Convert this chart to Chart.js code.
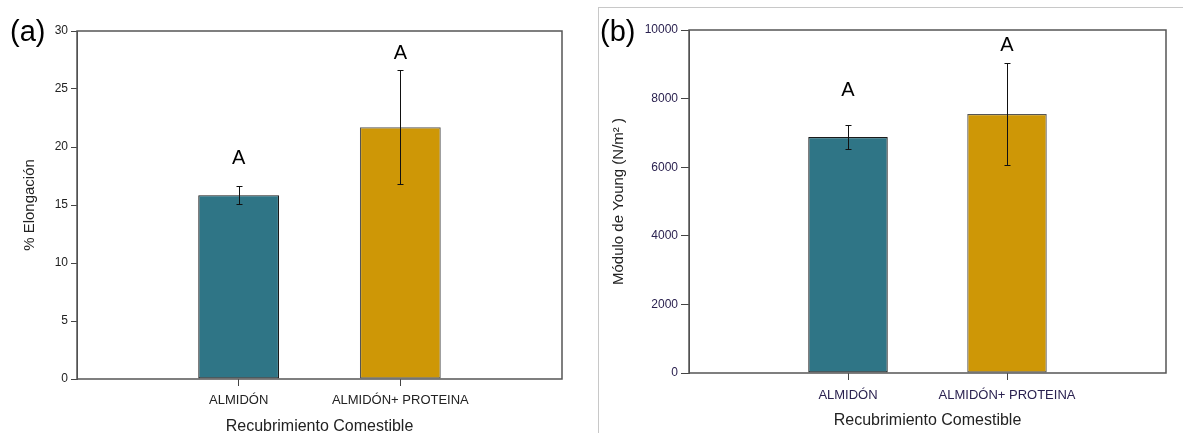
<!DOCTYPE html>
<html>
<head>
<meta charset="utf-8">
<script src="https://cdn.jsdelivr.net/npm/chart.js@4.4.0/dist/chart.umd.min.js"></script>
<style>
  html, body { margin: 0; padding: 0; background: #fff; width: 1183px; height: 433px; overflow: hidden; }
  #wrapA { position: absolute; left: 0; top: 0; width: 595px; height: 433px; }
  #wrapB { position: absolute; left: 598px; top: 7px; width: 585px; height: 426px; border-left: 1px solid #c8c8c8; border-top: 1px solid #c8c8c8; }
  #cB { position: absolute; left: 0; top: -8px; }
  .panel { position: absolute; font-family: "Liberation Sans", Arial, sans-serif; font-size: 29px; color: #000; line-height: 1; }
</style>
</head>
<body>
<div id="wrapA"><canvas id="cA" width="595" height="433"></canvas></div>
<div id="wrapB"><canvas id="cB" width="585" height="433"></canvas></div>
<div class="panel" style="left:10px; top:17px;">(a)</div>
<div class="panel" style="left:600px; top:17px;">(b)</div>
<script>
// ---- data ----
const categories = ['', 'ALMIDÓN', 'ALMIDÓN+ PROTEINA', ''];
const elongMean = [null, 15.85, 21.7, null];
const elongErr = [null, 0.78, 4.9, null];
const youngMean = [null, 6880, 7550, null];
const youngErr = [null, 350, 1485, null];
const groupLetters = ['', 'A', 'A', ''];
const elongTicks = { min: 0, max: 30, step: 5 };
const youngTicks = { min: 0, max: 10000, step: 2000 };
const xTitle = 'Recubrimiento Comestible';
const elongTitle = '% Elongación';
const youngTitle = 'Módulo de Young (N/m² )';

const barColors = ['#2F7586', '#CE9706'];
const FONT = '"Liberation Sans", Arial, sans-serif';

const annotatePlugin = {
  id: 'annotate',
  afterDatasetsDraw(chart, args, opts) {
    const { ctx, chartArea } = chart;
    const meta = chart.getDatasetMeta(0);
    const ys = chart.scales.y;
    ctx.save();
    // error bars
    ctx.strokeStyle = '#111';
    ctx.lineWidth = 1;
    opts.mean.forEach((m, i) => {
      if (m == null) return;
      const x = Math.round(meta.data[i].x) + 0.5;
      const yt = ys.getPixelForValue(m + opts.err[i]);
      const yb = ys.getPixelForValue(m - opts.err[i]);
      ctx.beginPath();
      ctx.moveTo(x, yt); ctx.lineTo(x, yb);
      ctx.moveTo(x - 3, Math.round(yt) + 0.5); ctx.lineTo(x + 3, Math.round(yt) + 0.5);
      ctx.moveTo(x - 3, Math.round(yb) + 0.5); ctx.lineTo(x + 3, Math.round(yb) + 0.5);
      ctx.stroke();
    });
    // letters
    ctx.fillStyle = '#000';
    ctx.font = '20px ' + FONT;
    ctx.textAlign = 'center';
    ctx.textBaseline = 'middle';
    opts.letters.forEach((l, i) => {
      if (!l) return;
      ctx.fillText(l, meta.data[i].x, ys.getPixelForValue(opts.letterAt[i]));
    });
    // frame
    ctx.strokeStyle = '#555';
    ctx.lineWidth = 1.5;
    ctx.strokeRect(chartArea.left, chartArea.top, chartArea.right - chartArea.left, chartArea.bottom - chartArea.top);
    ctx.restore();
  }
};

function makeChart(id, g) {
  return new Chart(document.getElementById(id), {
    type: 'bar',
    data: {
      labels: categories,
      datasets: [{
        data: g.mean,
        backgroundColor: c => barColors[(c.dataIndex - 1 + 2) % 2],
        borderColor: c => c.dataIndex === 1 ? '#1a1a1a' : '#555',
        borderWidth: 1.2,
        borderSkipped: false,
        barPercentage: 0.5,
        categoryPercentage: 1.0
      }]
    },
    options: {
      responsive: false,
      animation: false,
      events: [],
      layout: { padding: { top: g.top, right: g.right, left: 0, bottom: 0 } },
      plugins: {
        legend: { display: false },
        tooltip: { enabled: false },
        annotate: { mean: g.mean, err: g.err, letters: groupLetters, letterAt: g.letterAt }
      },
      scales: {
        x: {
          type: 'category',
          offset: false,
          grid: {
            offset: false,
            drawOnChartArea: false, drawTicks: true, tickLength: 7,
            color: c => (c.index === 1 || c.index === 2) ? '#444' : 'rgba(0,0,0,0)',
            tickColor: c => (c.index === 1 || c.index === 2) ? '#444' : 'rgba(0,0,0,0)'
          },
          border: { display: false },
          ticks: { color: g.tickColor, font: { family: FONT, size: 13 }, padding: g.xPad, maxRotation: 0, autoSkip: false },
          title: { display: true, text: xTitle, color: '#222', font: { family: FONT, size: 16, lineHeight: 0.75 }, padding: { top: 0, bottom: g.xTitlePad } },
          afterFit: s => { s.height = g.xH; }
        },
        y: {
          min: g.ticks.min, max: g.ticks.max,
          ticks: { stepSize: g.ticks.step, color: g.tickColor, font: { family: FONT, size: g.yFont }, padding: g.yPad, callback: v => String(v) },
          grid: { drawOnChartArea: false, drawTicks: true, tickLength: g.tl, color: '#444' },
          border: { display: true, color: '#444' },
          title: { display: true, text: g.yTitle, color: '#222', font: { family: FONT, size: 15, lineHeight: 1 }, padding: { top: g.yTitlePad, bottom: 0 } },
          afterFit: s => { s.width = g.left; }
        }
      }
    },
    plugins: [annotatePlugin]
  });
}

makeChart('cA', {
  mean: elongMean, err: elongErr, ticks: elongTicks, yTitle: elongTitle,
  letterAt: [null, 19.05, 28.1, null],
  top: 31, right: 33, left: 77, xH: 54, xPad: 7, yPad: 3, tl: 6, yFont: 12,
  yTitlePad: 22, xTitlePad: 0, tickColor: '#222'
});
makeChart('cB', {
  mean: youngMean, err: youngErr, ticks: youngTicks, yTitle: youngTitle,
  letterAt: [null, 8250, 9545, null],
  top: 30, right: 18, left: 90, xH: 60, xPad: 8, yPad: 3, tl: 8, yFont: 12,
  yTitlePad: 12, xTitlePad: 6, tickColor: '#2b2250'
});
</script>
</body>
</html>
